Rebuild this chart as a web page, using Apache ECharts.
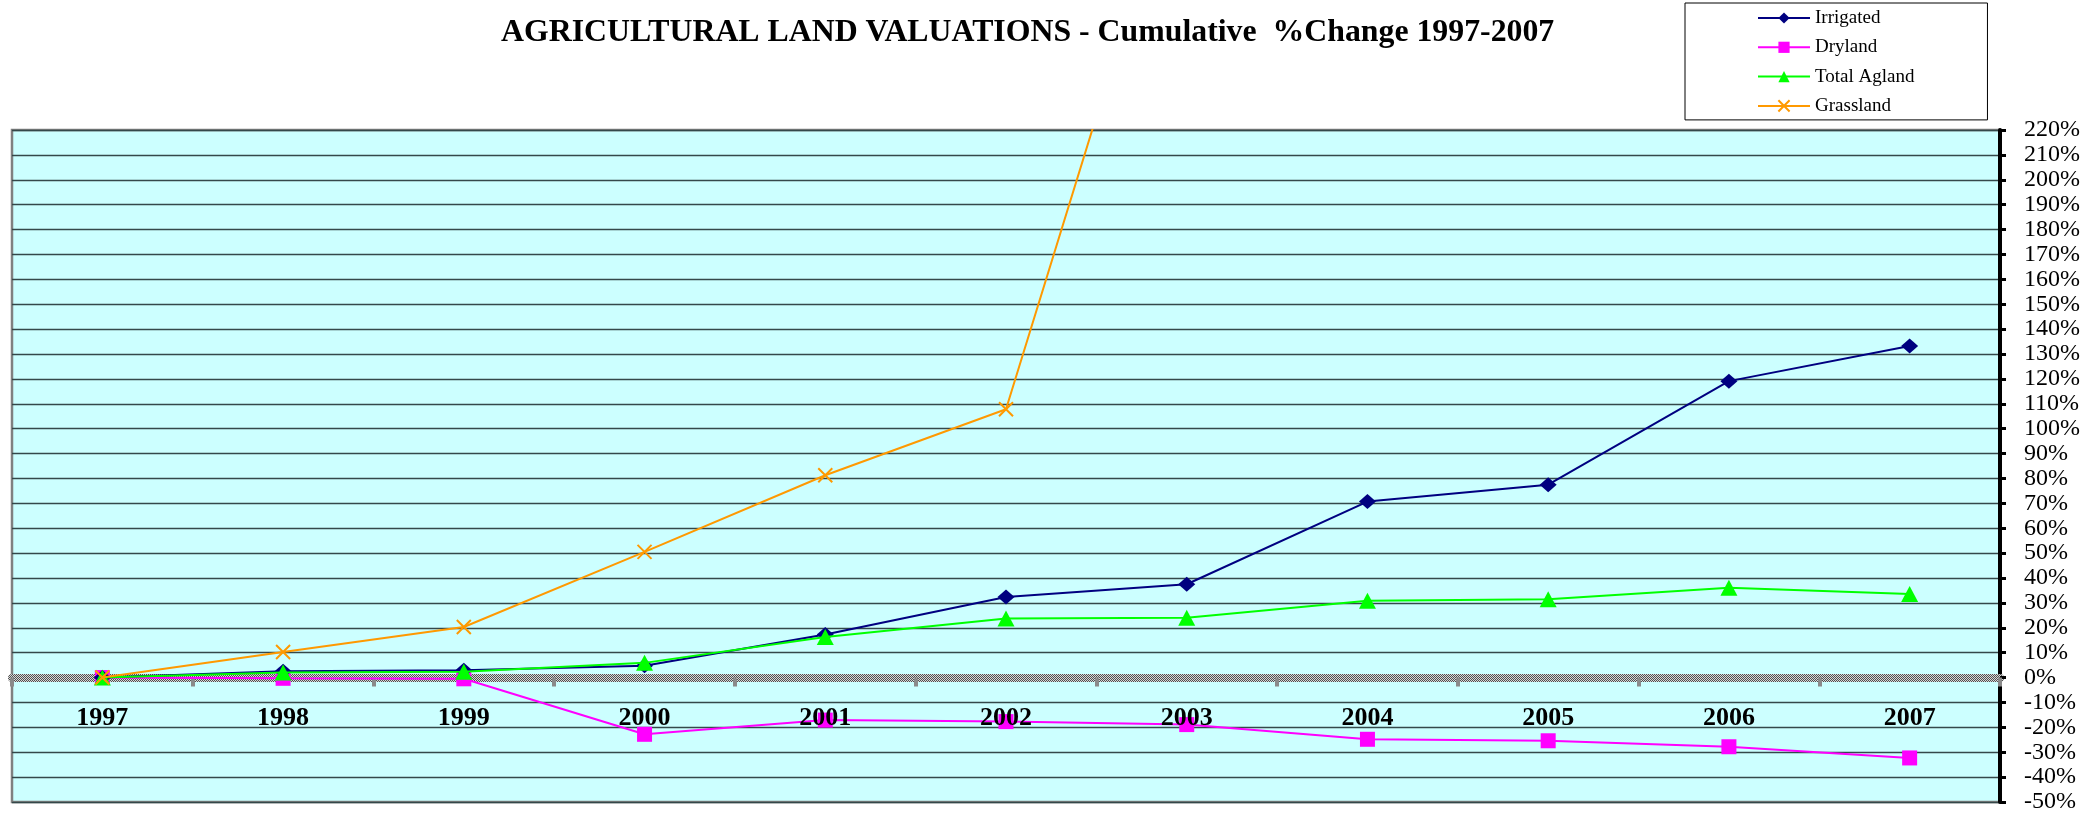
<!DOCTYPE html>
<html>
<head>
<meta charset="utf-8">
<script src="https://cdn.jsdelivr.net/npm/echarts@6/dist/echarts.min.js"></script>
<style>
  html, body { margin: 0; padding: 0; background: #ffffff; }
  #chart { width: 2093px; height: 818px; }
</style>
</head>
<body>
<div id="chart"></div>
<script>
// ---- Data ----
const years = ['1997', '1998', '1999', '2000', '2001', '2002', '2003', '2004', '2005', '2006', '2007'];
const irrigated = [0, 2.5, 2.9, 4.7, 17.3, 32.4, 37.5, 70.7, 77.5, 119.1, 133.2];
const dryland = [0, -0.3, -0.5, -22.8, -17.1, -17.7, -18.9, -24.8, -25.4, -27.8, -32.3];
const totalAgland = [0, 2.0, 2.3, 5.9, 16.3, 23.7, 24.0, 30.9, 31.5, 36.1, 33.6];
// Grassland leaves the visible range after 2002; later points are off the chart
const grassland = [0, 10.3, 20.3, 50.5, 81.3, 107.8, 343, null, null, null, null];
const seriesNames = ['Irrigated', 'Dryland', 'Total Agland', 'Grassland'];
const titleText = 'AGRICULTURAL LAND VALUATIONS - Cumulative  %Change 1997-2007';
const yMin = -50, yMax = 220, yStep = 10;

// checkered pattern for the zero line
const pc = document.createElement('canvas');
pc.width = 4; pc.height = 4;
const pctx = pc.getContext('2d');
pctx.fillStyle = '#d8d8d8'; pctx.fillRect(0, 0, 4, 4);
pctx.fillStyle = '#505050';
pctx.fillRect(0, 0, 1, 1); pctx.fillRect(2, 0, 1, 1);
pctx.fillRect(1, 1, 1, 1); pctx.fillRect(3, 1, 1, 1);
pctx.fillRect(0, 2, 1, 1); pctx.fillRect(2, 2, 1, 1);
pctx.fillRect(1, 3, 1, 1); pctx.fillRect(3, 3, 1, 1);

const serif = 'Liberation Serif';
const chart = echarts.init(document.getElementById('chart'), null, { renderer: 'canvas' });

chart.setOption({
  animation: false,
  backgroundColor: '#ffffff',
  title: {
    text: titleText,
    left: 501,
    top: 17,
    padding: 0,
    textStyle: { fontFamily: serif, fontWeight: 'bold', fontSize: 31.8, color: '#000000' }
  },
  legend: {
    orient: 'vertical',
    left: 1685,
    top: 3,
    padding: [5, 73, 4, 72],
    itemWidth: 52,
    itemHeight: 14,
    itemGap: 9.3,
    backgroundColor: '#ffffff',
    borderColor: '#000000',
    borderWidth: 1,
    data: seriesNames,
    textStyle: { fontFamily: serif, fontSize: 19, color: '#000000', lineHeight: 20 }
  },
  grid: {
    left: 12, right: 93, top: 130, bottom: 16,
    containLabel: false,
    outerBoundsMode: 'none',
    show: true,
    backgroundColor: '#CCFFFF',
    borderColor: '#808080',
    borderWidth: 2.5
  },
  xAxis: [
    {
      type: 'category',
      data: years,
      boundaryGap: true,
      position: 'bottom',
      axisLine: {
        show: true, onZero: true,
        lineStyle: { color: { image: pc, repeat: 'repeat' }, width: 8 }
      },
      axisTick: { show: true, interval: 0, length: 9, lineStyle: { color: '#8a8a8a', width: 4 } },
      axisLabel: { show: false },
      splitLine: { show: false }
    },
    {
      // label-only copy of the category axis, drawn above the series
      type: 'category',
      data: years,
      boundaryGap: true,
      position: 'bottom',
      z: 10,
      axisLine: { show: false, onZero: false },
      axisTick: { show: false },
      axisLabel: {
        interval: 0, margin: -97,
        fontFamily: serif, fontWeight: 'bold', fontSize: 26, color: '#000000'
      },
      splitLine: { show: false }
    }
  ],
  yAxis: {
    type: 'value',
    position: 'right',
    min: yMin, max: yMax, interval: yStep,
    axisLine: { show: true, onZero: false, lineStyle: { color: '#000000', width: 4 } },
    axisTick: { show: true, inside: false, length: 6, lineStyle: { color: '#000000', width: 3 } },
    axisLabel: {
      margin: 24,
      showMinLabel: true, showMaxLabel: true,
      formatter: '{value}%',
      fontFamily: serif, fontSize: 24, color: '#000000'
    },
    splitLine: { show: true, lineStyle: { color: '#34484a', width: 1.4 } }
  },
  series: [
    {
      name: seriesNames[0], type: 'line', data: irrigated, xAxisIndex: 0,
      symbol: 'diamond', symbolSize: [17, 15],
      lineStyle: { color: '#000080', width: 2 },
      itemStyle: { color: '#000080' },
      z: 3
    },
    {
      name: seriesNames[1], type: 'line', data: dryland, xAxisIndex: 0,
      symbol: 'rect', symbolSize: 15,
      lineStyle: { color: '#FF00FF', width: 2 },
      itemStyle: { color: '#FF00FF' },
      z: 2
    },
    {
      name: seriesNames[2], type: 'line', data: totalAgland, xAxisIndex: 0,
      symbol: 'triangle', symbolSize: [17, 16],
      lineStyle: { color: '#00FF00', width: 2 },
      itemStyle: { color: '#00FF00' },
      z: 4
    },
    {
      name: seriesNames[3], type: 'line', data: grassland, xAxisIndex: 0,
      symbol: 'path://M0,0L10,10M10,0L0,10', symbolSize: 14,
      connectNulls: false,
      lineStyle: { color: '#FF9900', width: 2 },
      itemStyle: { color: '#FF9900', borderColor: '#FF9900', borderWidth: 2 },
      z: 5
    }
  ]
});
</script>
</body>
</html>
